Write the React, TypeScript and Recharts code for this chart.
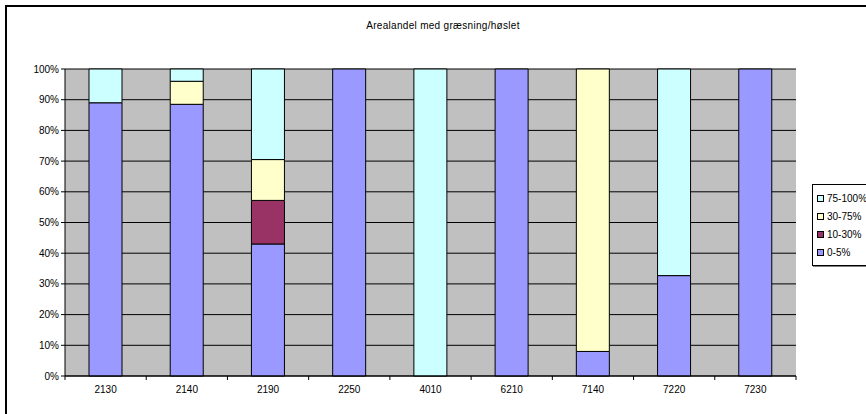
import {
  BarChart,
  Bar,
  XAxis,
  YAxis,
  CartesianGrid,
  Legend,
} from "recharts";

const codes = ["2130", "2140", "2190", "2250", "4010", "6210", "7140", "7220", "7230"];
const share0to5 = [89, 88.5, 43, 100, 0, 100, 8, 32.7, 100];
const share10to30 = [0, 0, 14.2, 0, 0, 0, 0, 0, 0];
const share30to75 = [0, 7.5, 13.3, 0, 0, 0, 92, 0, 0];
const share75to100 = [11, 4, 29.5, 0, 100, 0, 0, 67.3, 0];
const yTicks = [0, 0.1, 0.2, 0.3, 0.4, 0.5, 0.6, 0.7, 0.8, 0.9, 1];

const data = codes.map((code, i) => ({
  code,
  a: share0to5[i],
  b: share10to30[i],
  c: share30to75[i],
  d: share75to100[i],
}));

const SERIES = [
  { key: "d", name: "75-100%", color: "#CCFFFF" },
  { key: "c", name: "30-75%", color: "#FFFFCC" },
  { key: "b", name: "10-30%", color: "#993366" },
  { key: "a", name: "0-5%", color: "#9999FF" },
];

const FONT = "'Liberation Sans', Arial, sans-serif";
const tickStyle = { fill: "#000", fontSize: 10, fontFamily: FONT };
const TICK_SIZE = 4;
const TICK_MARGIN = 6;

// Excel puts the category tick marks between the columns, not under them
function CategoryTick(props: any) {
  const { x, y, payload, index, visibleTicksCount } = props;
  const half = payload?.offset ?? 0;
  const axisY = y - TICK_SIZE - TICK_MARGIN;
  const isLast = index === visibleTicksCount - 1;
  return (
    <g>
      <line x1={x - half} x2={x - half} y1={axisY} y2={axisY + TICK_SIZE} stroke="#000" />
      {isLast && (
        <line x1={x + half} x2={x + half} y1={axisY} y2={axisY + TICK_SIZE} stroke="#000" />
      )}
      <text x={x} y={y} dy="0.71em" textAnchor="middle" {...tickStyle}>
        {payload.value}
      </text>
    </g>
  );
}

function LegendBox() {
  return (
    <div
      style={{
        border: "1px solid #000",
        boxShadow: "1px 1px 0 #808080",
        background: "#fff",
        padding: "4px 6px 4px 4px",
        fontFamily: FONT,
        fontSize: 10,
        color: "#000",
        width: 70,
      }}
    >
      {SERIES.map((s) => (
        <div key={s.key} style={{ display: "flex", alignItems: "center", height: 18 }}>
          <span
            style={{
              display: "inline-block",
              width: 5,
              height: 5,
              border: "1px solid #000",
              background: s.color,
              marginRight: 3,
            }}
          />
          {s.name}
        </div>
      ))}
    </div>
  );
}

export default function App() {
  return (
    <div
      style={{
        position: "absolute",
        left: 0,
        top: 0,
        width: 866,
        height: 414,
        overflow: "hidden",
        background: "#fff",
      }}
    >
      <div
        style={{
          position: "absolute",
          left: 5,
          top: 5,
          width: 900,
          height: 500,
          border: "2px solid #000",
        }}
      />
      <div
        style={{
          position: "absolute",
          top: 20,
          left: 0,
          width: 886,
          textAlign: "center",
          fontFamily: FONT,
          fontSize: 10,
          letterSpacing: 0.3,
          color: "#000",
        }}
      >
        Arealandel med græsning/høslet
      </div>
      <div style={{ position: "absolute", left: 0, top: 0 }}>
        <BarChart
          width={866}
          height={414}
          data={data}
          stackOffset="expand"
          barSize={33}
          margin={{ top: 69, right: 70, left: 0, bottom: 0 }}
        >
          <CartesianGrid vertical={false} stroke="#000" fill="#C0C0C0" fillOpacity={1} />
          <XAxis
            xAxisId="cat"
            dataKey="code"
            stroke="#000"
            tickLine={false}
            tickSize={TICK_SIZE}
            tickMargin={TICK_MARGIN}
            tick={<CategoryTick />}
            interval={0}
            height={38}
          />
          <XAxis
            xAxisId="top"
            dataKey="code"
            orientation="top"
            height={0}
            tick={false}
            tickLine={false}
            stroke="#808080"
          />
          <YAxis
            domain={[0, 1]}
            ticks={yTicks}
            tickFormatter={(v) => `${Math.round(v * 100)}%`}
            tick={tickStyle}
            tickSize={4}
            width={65}
            stroke="#000"
            interval={0}
          />
          <YAxis
            yAxisId="right"
            orientation="right"
            domain={[0, 1]}
            width={0}
            tick={false}
            tickLine={false}
            stroke="#808080"
          />
          <Legend
            layout="horizontal"
            verticalAlign="middle"
            align="center"
            content={() => <LegendBox />}
            wrapperStyle={{ position: "absolute", left: 812, top: 184, width: 90 }}
          />
          {SERIES.slice()
            .reverse()
            .map((s) => (
              <Bar
                key={s.key}
                dataKey={s.key}
                name={s.name}
                stackId="s"
                xAxisId="cat"
                fill={s.color}
                stroke="#000"
                strokeWidth={1}
                isAnimationActive={false}
              />
            ))}
        </BarChart>
      </div>
    </div>
  );
}
